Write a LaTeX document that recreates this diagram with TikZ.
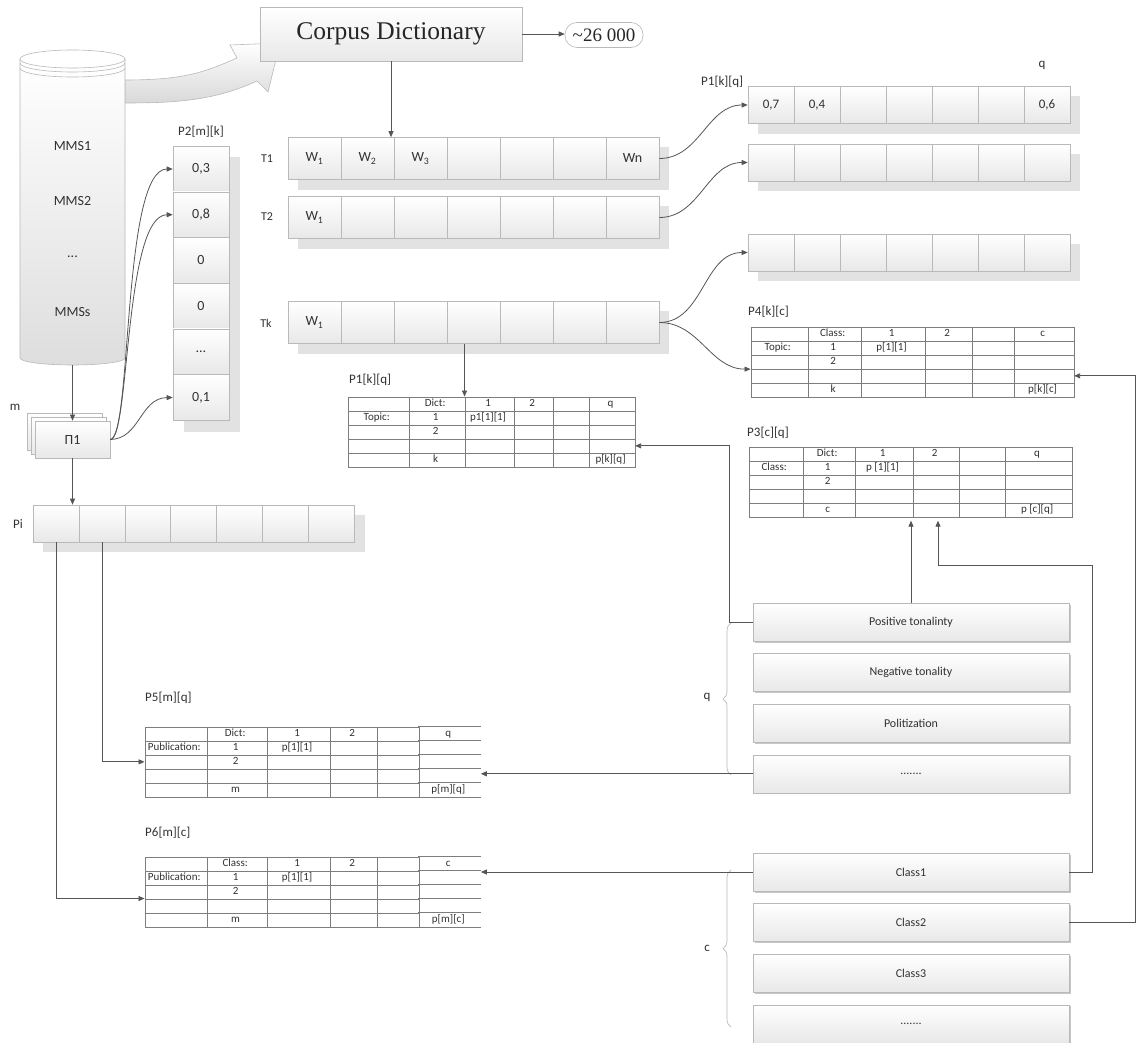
\documentclass[tikz,border=0pt]{standalone}
\usepackage{fontspec}
\setmainfont{Carlito}
\newfontfamily\dictserif{Liberation Serif}
\usetikzlibrary{arrows.meta,positioning,calc,backgrounds,matrix,shadows,decorations.pathreplacing}
\definecolor{framegrey}{RGB}{185,185,185}
\definecolor{fadegrey}{RGB}{232,232,232}
\definecolor{shadowgrey}{RGB}{226,226,226}
\definecolor{wiregrey}{RGB}{85,85,85}
\definecolor{inkgrey}{RGB}{50,50,50}
\definecolor{gridgrey}{RGB}{125,125,125}
\tikzset{
  base/.style={font=\fontsize{12}{14}\selectfont, text=inkgrey, inner sep=0pt, align=center},
  cell/.style={base, rectangle, draw=framegrey, top color=white, bottom color=fadegrey, line width=0.6pt},
  wcell/.style={cell, minimum width=53pt, minimum height=42pt, font=\fontsize{14}{16}\selectfont},
  vcell/.style={cell, minimum width=46pt, minimum height=37pt, font=\fontsize{13}{15}\selectfont},
  pcell/.style={cell, minimum width=56pt, minimum height=45.7pt, font=\fontsize{14}{16}\selectfont},
  stackbox/.style={cell, minimum width=75pt, minimum height=37pt, font=\fontsize{14}{16}\selectfont},
  catbox/.style={cell, minimum width=316pt, minimum height=38pt, drop shadow={shadow xshift=1.5pt,shadow yshift=-1.5pt,fill=black!22,opacity=1}},
  lbl/.style={base, font=\fontsize{13}{15}\selectfont},
  rowlbl/.style={base, font=\fontsize{12}{14}\selectfont},
  tname/.style={lbl, anchor=west},
  tbl/.style={matrix of nodes, anchor=north west, nodes in empty cells, column sep=-0.6pt, row sep=-0.6pt,
    nodes={base, draw=gridgrey, line width=0.6pt, minimum height=14pt, text height=7.5pt, text depth=2pt, font=\fontsize{11}{13}\selectfont}},
  tblcols/.style n args={6}{column 1/.style={nodes={minimum width=#1pt}}, column 2/.style={nodes={minimum width=#2pt}},
    column 3/.style={nodes={minimum width=#3pt}}, column 4/.style={nodes={minimum width=#4pt}},
    column 5/.style={nodes={minimum width=#5pt}}, column 6/.style={nodes={minimum width=#6pt}}},
  gridline/.style={draw=gridgrey, line width=0.6pt},
  dropfill/.style={fill=shadowgrey},
  arr/.style={-{Triangle[length=6pt,width=5pt]}, line width=0.8pt, draw=wiregrey},
  wire/.style={line width=0.8pt, draw=wiregrey},
  bracegrey/.style={draw=framegrey, line width=0.7pt, decorate, decoration={brace, amplitude=8pt}},
}
\begin{document}
\begin{tikzpicture}[x=1pt,y=-1pt]
  \useasboundingbox (0,0) rectangle (1138,1043);
  % block arrow into the dictionary
  \path[draw=framegrey, line width=0.6pt, top color=white, bottom color=black!15]
    (125,80) .. controls (185,80) and (205,72) .. (237,58) -- (230,45) -- (280,43) -- (268,92) -- (257,81)
    .. controls (215,100) and (180,103) .. (125,103) -- cycle;
  % source cylinder
  \path[draw=framegrey, line width=0.6pt, top color=white, bottom color=black!13]
    (20,59) -- (20,358) arc[start angle=180, end angle=360, x radius=52.5pt, y radius=7pt] -- (125,59) -- cycle;
  \draw[draw=framegrey, line width=0.6pt, fill=white] (72.5,59) ellipse[x radius=52.5pt, y radius=9pt];
  \draw[draw=framegrey, line width=0.6pt] (20,63) arc[start angle=180, end angle=360, x radius=52.5pt, y radius=9pt];
  \draw[draw=framegrey, line width=0.6pt] (20,68) arc[start angle=180, end angle=360, x radius=52.5pt, y radius=9pt];
  \node[minimum width=105pt, minimum height=313pt, inner sep=0pt] (db) at (72.5,208.5) {};
  \node[base, font=\fontsize{14}{16}\selectfont] (mms1) at (72.5,146) {MMS1};
  \node[base, font=\fontsize{14}{16}\selectfont] (mms2) at (72.5,201) {MMS2};
  \node[base, font=\fontsize{14}{16}\selectfont] (mmsd) at (72.5,257) {...};
  \node[base, font=\fontsize{14}{16}\selectfont] (mmss) at (72.5,312) {MMSs};
  % dictionary
  \node[cell, minimum width=262pt, minimum height=54pt, font=\dictserif\fontsize{25.5}{28}\selectfont, text=black!85] (cd) at (391,34) {Corpus Dictionary};
  \node[base, draw=framegrey, line width=0.6pt, rounded corners=12pt, minimum width=78pt, minimum height=25pt, font=\dictserif\fontsize{19}{21}\selectfont, text=black!85] (cnt) at (604,35) {\textasciitilde 26 000};
  \draw[arr] (cd.east) -- (cd.east -| cnt.west);
  % topic rows
  \foreach \w [count=\i from 0] in {W\textsubscript{1},W\textsubscript{2},W\textsubscript{3},{},{},{},Wn}
    \node[wcell] (t1-\i) at ({314.5+53*\i},158.5) {\w};
  \foreach \w [count=\i from 0] in {W\textsubscript{1},{},{},{},{},{},{}}
    \node[wcell] (t2-\i) at ({314.5+53*\i},217.5) {\w};
  \foreach \w [count=\i from 0] in {W\textsubscript{1},{},{},{},{},{},{}}
    \node[wcell] (tk-\i) at ({314.5+53*\i},322.5) {\w};
  \node[rowlbl] (t1l) at (267,159) {T1};
  \node[rowlbl] (t2l) at (267,217) {T2};
  \node[rowlbl] (tkl) at (266,323) {Tk};
  \draw[arr] (cd.south) -- (cd.south |- t1-1.north);
  % topic-to-dict rows
  \foreach \v [count=\i from 0] in {{0,7},{0,4},{},{},{},{},{0,6}}
    \node[vcell] (pr1-\i) at ({771+46*\i},105) {\v};
  \foreach \i in {0,...,6}
    \node[vcell] (pr2-\i) at ({771+46*\i},162.5) {};
  \foreach \i in {0,...,6}
    \node[vcell] (pr3-\i) at ({771+46*\i},252.5) {};
  \node[tname] (pr1l) at (701,82) {P1[k][q]};
  \node[lbl] (pr1q) at (1042,65) {q};
  \draw[arr] (t1-6.east) to[out=0,in=180] (pr1-0.west);
  \draw[arr] (t2-6.east) to[out=0,in=180] (pr2-0.west);
  \draw[arr] (tk-6.east) to[out=0,in=180] (pr3-0.west);
  % publication stack and P2 column
  \node[stackbox] (pb2) at (64.5,431.5) {};
  \node[stackbox] (pb1) at (68.5,435.5) {};
  \node[stackbox] (pf) at (72.5,439.5) {П1};
  \node[lbl] (ml) at (15,407) {m};
  \draw[arr] (db.south) -- (pf.north);
  \foreach \v [count=\i from 0] in {{0,3},{0,8},0,0,\ldots,{0,1}}
    \node[pcell] (p2-\i) at (201,{169+45.7*\i}) {\v};
  \node[lbl] (p2l) at (201,132) {P2[m][k]};
  \draw[arr] (pf.east) .. controls (132,439) and (122,169) .. (p2-0.west);
  \draw[arr] (pf.east) .. controls (130,439) and (124,215) .. (p2-1.west);
  \draw[arr] (pf.east) .. controls (140,439) and (140,398) .. (p2-5.west);
  % publication row
  \foreach \i in {0,...,6}
    \node[vcell] (pi-\i) at ({56+45.9*\i},523.5) {};
  \node[lbl] (pil) at (18,524) {Pi};
  \draw[arr] (pf.south) -- (pf.south |- pi-0.north);
  % tables
  \matrix[tbl, tblcols={61}{56}{49}{39}{36}{46}] (p1t) at (344,393) {
     & Dict: & 1 & 2 & & q \\
    Topic: & 1 & p1[1][1] & & & \\
     & 2 & & & & \\
     & & & & & \\
     & k & & & & p[k][q] \\
  };
  \node[tname] (p1tl) at (349,380) {P1[k][q]};
  \draw[arr] (tk-3.south -| p1t-1-3.north west) -- (p1t-1-3.north west);
  \matrix[tbl, tblcols={57}{53}{64}{47}{42}{60}] (p4) at (747,323) {
     & Class: & 1 & 2 & & c \\
    Topic: & 1 & p[1][1] & & & \\
     & 2 & & & & \\
     & & & & & \\
     & k & & & & p[k][c] \\
  };
  \node[tname] (p4l) at (748,312) {P4[k][c]};
  \draw[arr] (tk-6.east) to[out=0,in=180] (p4-3-1.south west);
  \matrix[tbl, tblcols={54}{52}{58}{46}{46}{67}] (p3) at (745,443) {
     & Dict: & 1 & 2 & & q \\
    Class: & 1 & p [1][1] & & & \\
     & 2 & & & & \\
     & & & & & \\
     & c & & & & p [c][q] \\
  };
  \node[tname] (p3l) at (747,433) {P3[c][q]};
  \matrix[tbl, tblcols={62}{60}{63}{47}{42}{62}, column 6/.append style={nodes={draw=none}}] (p5) at (141,723) {
     & Dict: & 1 & 2 & & q \\
    Publication: & 1 & p[1][1] & & & \\
     & 2 & & & & \\
     & & & & & \\
     & m & & & & p[m][q] \\
  };
  \node[tname] (p5l) at (145,698) {P5[m][q]};
  \matrix[tbl, tblcols={62}{60}{63}{47}{42}{62}, column 6/.append style={nodes={draw=none}}] (p6) at (141,853) {
     & Class: & 1 & 2 & & c \\
    Publication: & 1 & p[1][1] & & & \\
     & 2 & & & & \\
     & & & & & \\
     & m & & & & p[m][c] \\
  };
  \node[tname] (p6l) at (145,833) {P6[m][c]};
  \foreach \r in {1,...,5}{
    \draw[gridline] (p5-\r-6.north west) -- (p5-\r-6.north east);
    \draw[gridline] (p6-\r-6.north west) -- (p6-\r-6.north east);
  }
  \draw[gridline] (p5-5-6.south west) -- (p5-5-6.south east);
  \draw[gridline] (p6-5-6.south west) -- (p6-5-6.south east);
  \draw[arr] (pi-1.south) |- (p5-3-1.west);
  \draw[arr] (pi-0.south) |- (p6-4-1.north west);
  % tonality and class boxes
  \node[catbox] (pt) at (911,622) {Positive tonalinty};
  \node[catbox, below=12pt of pt] (nt) {Negative tonality};
  \node[catbox, below=12pt of nt] (pol) {Politization};
  \node[catbox, below=12pt of pol] (qx) {.......};
  \node[catbox] (c1) at (911,872) {Class1};
  \node[catbox, below=12pt of c1] (c2) {Class2};
  \node[catbox, below=12pt of c2] (c3) {Class3};
  \node[catbox, below=12pt of c3] (cx) {.......};
  \draw[bracegrey] (731,775) -- (731,623);
  \draw[bracegrey] (731,1027) -- (731,870);
  \node[lbl] (ql) at (707,697) {q};
  \node[lbl] (cl) at (707,948) {c};
  \coordinate (p3in) at (938,565);
  \draw[arr] (pt.west) -- ++(-23,0) |- (p1t-4-6.east);
  \draw[arr] (pt.north) -- (pt.north |- p3.south);
  \draw[arr] (c1.east) -- ++(23,0) |- (p3in) -- (p3in |- p3.south);
  \draw[arr] (c2.east) -- ++(66,0) |- (p4-4-6.east);
  \draw[arr] (qx.west) -- (qx.west -| p5-4-6.east);
  \draw[arr] (c1.west) -- (c1.west -| p6-2-6.east);
  % shadows
  \begin{scope}[on background layer]
    \fill[white] (0,0) rectangle (1138,1043);
    \fill[dropfill] ($(t1-0.north west)+(10,10)$) rectangle ($(t1-6.south east)+(10,10)$);
    \fill[dropfill] ($(t2-0.north west)+(10,10)$) rectangle ($(t2-6.south east)+(10,10)$);
    \fill[dropfill] ($(tk-0.north west)+(10,10)$) rectangle ($(tk-6.south east)+(10,10)$);
    \fill[dropfill] ($(pr1-0.north west)+(10,10)$) rectangle ($(pr1-6.south east)+(10,10)$);
    \fill[dropfill] ($(pr2-0.north west)+(10,10)$) rectangle ($(pr2-6.south east)+(10,10)$);
    \fill[dropfill] ($(pr3-0.north west)+(10,10)$) rectangle ($(pr3-6.south east)+(10,10)$);
    \fill[dropfill] ($(pi-0.north west)+(10,10)$) rectangle ($(pi-6.south east)+(10,10)$);
    \fill[dropfill] ($(p2-0.north west)+(11,11)$) rectangle ($(p2-5.south east)+(11,11)$);
  \end{scope}
\end{tikzpicture}
\end{document}
